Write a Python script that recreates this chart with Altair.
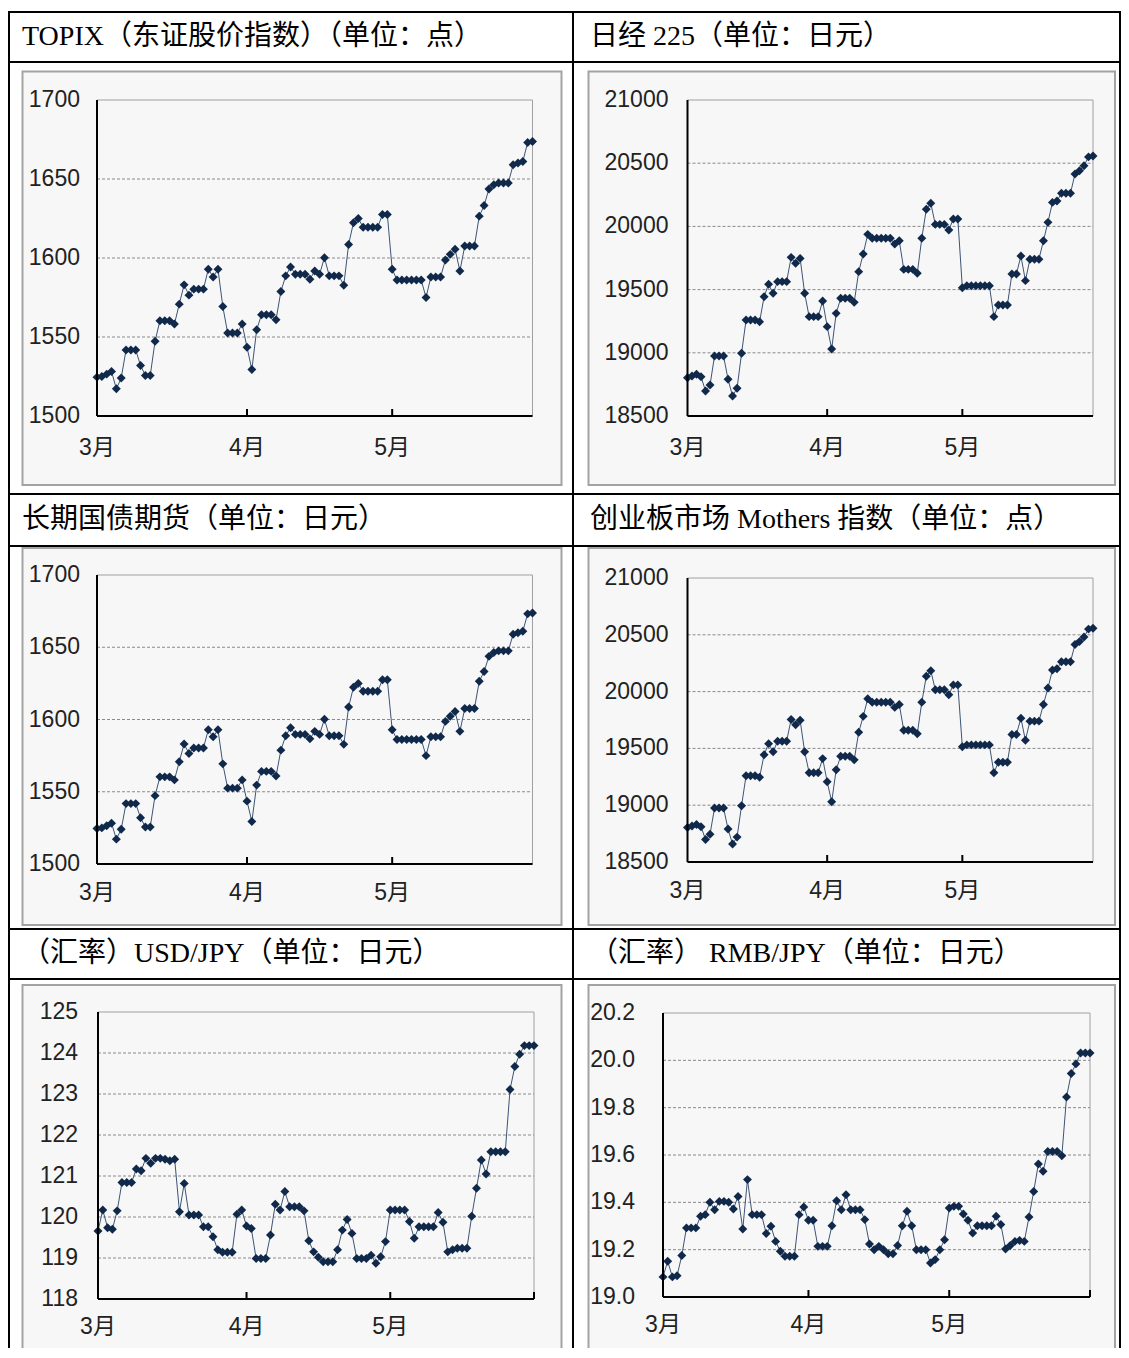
import altair as alt
import pandas as pd

# ---------------- data ----------------
month_labels = ["3月", "4月", "5月"]
month_starts = [0, 31, 61]

titles = [
    "TOPIX（东证股价指数）（单位：点）",
    "日经 225（单位：日元）",
    "长期国债期货（单位：日元）",
    "创业板市场 Mothers 指数（单位：点）",
    "（汇率）USD/JPY（单位：日元）",
    "（汇率） RMB/JPY（单位：日元）",
]

topix = [1524.6, 1525.0, 1526.5, 1528.2, 1517.2, 1524.0, 1541.8, 1541.8, 1541.8, 1532.0,
         1525.6, 1525.6, 1547.3, 1560.3, 1560.3, 1560.3, 1558.2, 1570.8, 1583.0, 1576.5,
         1580.3, 1580.3, 1580.3, 1592.9, 1588.0, 1592.9, 1569.3, 1552.5, 1552.5, 1552.5,
         1558.2, 1543.5, 1529.4, 1554.6, 1564.1, 1564.1, 1564.1, 1560.9, 1578.8, 1588.7,
         1594.3, 1589.7, 1589.7, 1589.7, 1586.6, 1591.8, 1589.7, 1600.2, 1588.7, 1588.7,
         1588.7, 1582.8, 1608.6, 1622.3, 1625.0, 1619.5, 1619.5, 1619.5, 1619.5, 1627.5,
         1627.5, 1592.9, 1586.1, 1586.1, 1586.1, 1586.1, 1586.1, 1586.1, 1575.0, 1588.0,
         1588.0, 1588.0, 1598.7, 1602.3, 1605.5, 1591.8, 1607.6, 1607.6, 1607.6, 1626.5,
         1633.2, 1643.7, 1646.4, 1647.5, 1647.5, 1647.5, 1659.0, 1660.1, 1661.1, 1673.1,
         1673.7]

nikkei = [18803, 18817, 18830, 18811, 18698, 18745, 18975, 18975, 18975, 18790,
          18658, 18719, 18996, 19260, 19260, 19260, 19246, 19444, 19542, 19471,
          19563, 19563, 19563, 19755, 19708, 19747, 19471, 19286, 19286, 19286,
          19410, 19207, 19030, 19312, 19431, 19431, 19431, 19399, 19642, 19782,
          19937, 19906, 19906, 19906, 19906, 19906, 19861, 19887, 19660, 19660,
          19660, 19629, 19906, 20135, 20183, 20016, 20016, 20016, 19972, 20059,
          20059, 19515, 19531, 19531, 19531, 19531, 19531, 19531, 19286, 19378,
          19378, 19378, 19623, 19623, 19766, 19571, 19740, 19740, 19740, 19887,
          20032, 20190, 20201, 20262, 20262, 20262, 20415, 20440, 20480, 20550,
          20557]

usdjpy = [119.66, 120.17, 119.74, 119.70, 120.15, 120.84, 120.84, 120.84, 121.17, 121.13,
          121.43, 121.31, 121.43, 121.43, 121.41, 121.37, 121.41, 120.13, 120.82, 120.05,
          120.05, 120.05, 119.76, 119.76, 119.52, 119.20, 119.14, 119.14, 119.14, 120.07,
          120.17, 119.78, 119.72, 118.99, 118.99, 118.99, 119.56, 120.31, 120.17, 120.62,
          120.25, 120.25, 120.25, 120.15, 119.42, 119.15, 119.02, 118.91, 118.91, 118.91,
          119.20, 119.68, 119.94, 119.60, 118.99, 118.99, 118.99, 119.07, 118.87, 119.03,
          119.40, 120.17, 120.17, 120.17, 120.17, 119.89, 119.48, 119.76, 119.76, 119.76,
          119.76, 120.11, 119.87, 119.15, 119.20, 119.24, 119.24, 119.24, 120.02, 120.70,
          121.39, 121.05, 121.59, 121.59, 121.59, 121.59, 123.11, 123.67, 123.97, 124.18,
          124.18, 124.18]

rmbjpy = [19.085, 19.151, 19.085, 19.090, 19.175, 19.292, 19.292, 19.292, 19.341, 19.348,
          19.400, 19.369, 19.404, 19.404, 19.400, 19.372, 19.425, 19.287, 19.496, 19.348,
          19.348, 19.348, 19.268, 19.299, 19.235, 19.193, 19.172, 19.172, 19.172, 19.348,
          19.380, 19.324, 19.324, 19.214, 19.214, 19.214, 19.301, 19.407, 19.369, 19.432,
          19.369, 19.369, 19.369, 19.327, 19.224, 19.200, 19.214, 19.200, 19.183, 19.183,
          19.218, 19.301, 19.362, 19.301, 19.200, 19.200, 19.200, 19.144, 19.158, 19.200,
          19.242, 19.376, 19.383, 19.383, 19.351, 19.324, 19.270, 19.301, 19.301, 19.301,
          19.301, 19.341, 19.306, 19.203, 19.218, 19.235, 19.239, 19.235, 19.338, 19.446,
          19.562, 19.531, 19.615, 19.615, 19.615, 19.597, 19.845, 19.944, 19.985, 20.031,
          20.031, 20.031]

topix_ticks = [1500, 1550, 1600, 1650, 1700]
nikkei_ticks = [18500, 19000, 19500, 20000, 20500, 21000]
usd_ticks = [118, 119, 120, 121, 122, 123, 124, 125]
rmb_ticks = [19.0, 19.2, 19.4, 19.6, 19.8, 20.0, 20.2]

# ---------------- style ----------------
LABEL_FONT = "Liberation Sans, Noto Sans CJK JP"
TITLE_FONT = "Liberation Serif, Noto Sans CJK SC"
POINT_COLOR = "#10294a"
LINE_COLOR = "#3d5475"
BG = "#f7f7f7"
FRAME = "#a3a3a3"
LABEL_SIZE = 23

label_expr = " : ".join(
    f"datum.value == {m} ? '{l}'" for m, l in zip(month_starts[:-1], month_labels[:-1])
) + f" : '{month_labels[-1]}'"

one = pd.DataFrame({"a": [0]})


def fill_rect(x0, x1, y0, y1, color):
    # filled rectangle without stroke (exact bounds)
    return alt.Chart(one).mark_rect(fill=color, strokeWidth=0).encode(
        x=alt.value(x0), x2=alt.value(x1), y=alt.value(y0), y2=alt.value(y1))


def make_cell(title, values, ticks, yfmt, W, H, hd, frame, plot, ypad, xpad, xend,
              tick_days, right_border, title_x, title_y, open_bottom):
    px0, px1, py0, py1 = plot
    fx0, fx1, fy0, fy1 = frame
    df = pd.DataFrame({"d": list(range(len(values))), "value": values})
    grid_df = pd.DataFrame({"value": ticks[1:-1]})
    tick_df = pd.DataFrame({"d": tick_days})
    title_df = pd.DataFrame({"t": [title]})

    X = alt.X("d:Q",
              scale=alt.Scale(domain=[0, xend], range=[px0, px1], nice=False, zero=False),
              axis=alt.Axis(values=month_starts, labelExpr=label_expr, title=None,
                            orient="bottom", offset=py1 - H, ticks=False, tickSize=0,
                            grid=False, domainColor="black", domainWidth=2,
                            labelFont=LABEL_FONT, labelFontSize=LABEL_SIZE,
                            labelColor="#222222", labelPadding=xpad, zindex=1, translate=0,
                            labelFlush=False, labelOverlap=False, labelAngle=0))
    Y = alt.Y("value:Q",
              scale=alt.Scale(domain=[ticks[0], ticks[-1]], range=[py1, py0],
                              nice=False, zero=False),
              axis=alt.Axis(values=ticks, format=yfmt, title=None, orient="left",
                            offset=-px0, ticks=False, tickSize=0, grid=False,
                            domainColor="black", domainWidth=2, labelFont=LABEL_FONT,
                            labelFontSize=LABEL_SIZE, labelColor="#222222",
                            labelPadding=ypad, zindex=1, translate=0, labelFlush=False,
                            labelOverlap=False))

    layers = [
        # grey outer frame: edge colour underneath, panel fill on top
        fill_rect(fx0, fx1, fy0, fy1, FRAME),
        fill_rect(fx0 + 2, fx1 - 2, fy0 + 2, fy1 if open_bottom else fy1 - 2, BG),
        # plot area
        alt.Chart(one).mark_rect(fill=BG, stroke="#a0a0a0", strokeWidth=1).encode(
            x=alt.value(px0), x2=alt.value(px1), y=alt.value(py0), y2=alt.value(py1)),
        alt.Chart(grid_df).mark_rule(color="#8a8a8a", strokeWidth=1, strokeDash=[3, 2]).encode(
            y=Y, x=alt.value(px0), x2=alt.value(px1)),
        alt.Chart(tick_df).mark_rule(color="black", strokeWidth=2).encode(
            x=X, y=alt.value(py1 - 7), y2=alt.value(py1)),
        alt.Chart(df).mark_line(color=LINE_COLOR, strokeWidth=1).encode(x=X, y=Y),
        alt.Chart(df).mark_point(shape="diamond", filled=True, size=80, opacity=1,
                                 color=POINT_COLOR).encode(x=X, y=Y),
        # table borders
        fill_rect(0, 2, 0, H, "black"),
        fill_rect(0, W, 0, 2, "black"),
        fill_rect(0, W, hd - 1, hd + 1, "black"),
        alt.Chart(title_df).mark_text(align="left", baseline="middle", font=TITLE_FONT,
                                      fontSize=28, color="black").encode(
            x=alt.value(title_x), y=alt.value(title_y), text="t:N"),
    ]
    if right_border:
        layers.append(fill_rect(W - 2, W, 0, H, "black"))
    return alt.layer(*layers).properties(width=W, height=H)


W1, W2 = 564, 549
H1, H2, H3 = 482, 435, 420

c1 = make_cell(titles[0], topix, topix_ticks, "d", W1, H1, 51,
               (13.5, 554.5, 59.5, 475), (89, 524.5, 89, 405), 17, 21, 90, [31, 61],
               False, 14, 26, False)
c2 = make_cell(titles[1], nikkei, nikkei_ticks, "d", W2, H1, 51,
               (15.5, 544, 59.5, 475), (115.5, 521, 89, 405), 19, 21, 90, [31, 61],
               True, 18, 26, False)
c3 = make_cell(titles[2], topix, topix_ticks, "d", W1, H2, 53,
               (13.5, 554.5, 54, 433), (89, 524.5, 82, 371), 17, 18, 90, [31, 61],
               False, 14, 27, False)
c4 = make_cell(titles[3], nikkei, nikkei_ticks, "d", W2, H2, 53,
               (15.5, 544, 54, 433), (115.5, 521, 85, 369), 19, 18, 90, [31, 61],
               True, 18, 27, False)
c5 = make_cell(titles[4], usdjpy, usd_ticks, "d", W1, H3, 51,
               (13.5, 554.5, 56, H3), (90, 526, 84, 371), 20, 17, 91, [31, 61, 91],
               False, 14, 26, True)
c6 = make_cell(titles[5], rmbjpy, rmb_ticks, ".1f", W2, H3, 51,
               (15.5, 544, 56, H3), (91, 518, 85, 369), 28, 17, 91, [31, 61, 91],
               True, 18, 26, True)

chart = alt.concat(c1, c2, c3, c4, c5, c6, columns=2, spacing=0, bounds="flush",
                   align="each").properties(
    padding={"left": 0, "top": 3, "right": 0, "bottom": 0},
).configure_view(stroke=None)

chart.save("out.html", embed_options={"renderer": "svg", "actions": False})
